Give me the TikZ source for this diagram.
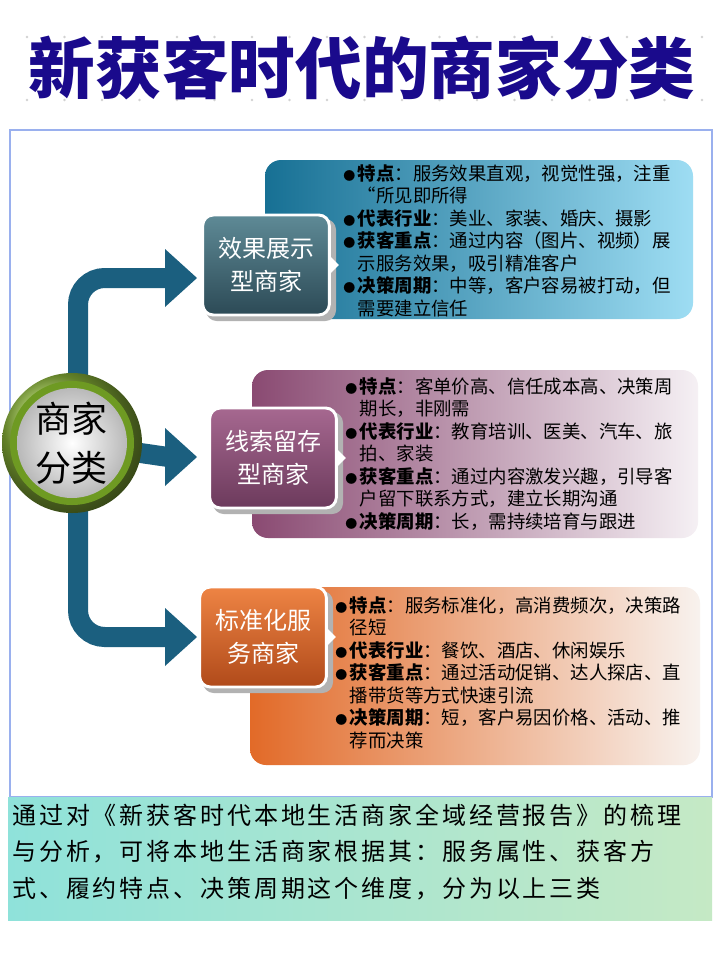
\documentclass[tikz,border=0pt]{standalone}
\usepackage{fontspec}
\setmainfont{Noto Sans CJK SC}
\usetikzlibrary{shadings}
\definecolor{titleblue}{HTML}{1A0A8C}
\definecolor{trunk}{HTML}{1B5F7F}
\definecolor{frameblue}{HTML}{9AB0EE}
\definecolor{bandL}{HTML}{8FE2DA}
\definecolor{bandR}{HTML}{C5E9C5}
\definecolor{p1L}{HTML}{177094}
\definecolor{p1R}{HTML}{9EDDF3}
\definecolor{p2L}{HTML}{8A4A72}
\definecolor{p2R}{HTML}{F5F0F4}
\definecolor{p3L}{HTML}{E26A28}
\definecolor{p3R}{HTML}{F8F2EE}
\definecolor{b1T}{HTML}{5E8A96}
\definecolor{b1B}{HTML}{2C4A56}
\definecolor{b2T}{HTML}{A66890}
\definecolor{b2B}{HTML}{6C3A5C}
\definecolor{b3T}{HTML}{EE8444}
\definecolor{b3B}{HTML}{B04A1A}
\definecolor{gball}{HTML}{8DB83A}
\definecolor{gring}{HTML}{6E9A22}
\newcommand\bl[2]{\makebox[11pt][l]{\fontsize{9}{9}\selectfont●}\textbf{#1}：#2}
\newcommand\cn[1]{\hspace*{11pt}#1}
\tikzset{
  cat/.style={draw=white, line width=2.2pt, rounded corners=8pt, minimum width=95pt, minimum height=75pt, text=white, font=\fontsize{18}{25}\selectfont, align=center},
  panel/.style={rounded corners=12pt},
  ptext/.style={anchor=north west, align=left, inner sep=0pt, font=\fontsize{13.8}{16.9}\selectfont, text=black},
  shaft/.style={draw=trunk, line width=15pt, rounded corners=20pt}
}
\begin{document}
\begin{tikzpicture}[x=0.75pt,y=-0.75pt]
\useasboundingbox (0,0) rectangle (720,960);
\fill[white] (0,0) rectangle (720,960);
\foreach \i in {0,...,18} {
  \fill[gray!35] (27+\i*37.5,37) circle (1.3);
  \fill[gray!35] (27+\i*37.5,100) circle (1.3);
}
\node (title) at (362,68) {\fontsize{50}{55}\selectfont\bfseries\color{titleblue}新获客时代的商家分类};
\draw[frameblue, line width=1.2pt] (10,130) rectangle (712,797);
\shade[left color=bandL, right color=bandR] (8,797) rectangle (712,920);
\node (note) [anchor=north west, align=left, inner sep=0pt, font=\fontsize{18}{27.2}\selectfont\addfontfeatures{LetterSpace=12}] at (12,804)
 {通过对《新获客时代本地生活商家全域经营报告》的梳理\\与分析，可将本地生活商家根据其：服务属性、获客方\\式、履约特点、决策周期这个维度，分为以上三类};
\shade[panel, left color=p1L, right color=p1R] (265,160) rectangle (693,319);
\shade[panel, left color=p2L, right color=p2R] (252,370) rectangle (698,538);
\shade[panel, left color=p3L, right color=p3R] (250,587) rectangle (700,765);
\node (p1) [ptext] at (343,164) {\bl{特点}{服务效果直观，视觉性强，注重}\\\cn{“所见即所得}\\\bl{代表行业}{美业、家装、婚庆、摄影}\\\bl{获客重点}{通过内容（图片、视频）展}\\\cn{示服务效果，吸引精准客户}\\\bl{决策周期}{中等，客户容易被打动，但}\\\cn{需要建立信任}};
\node (p2) [ptext] at (345,377) {\bl{特点}{客单价高、信任成本高、决策周}\\\cn{期长，非刚需}\\\bl{代表行业}{教育培训、医美、汽车、旅}\\\cn{拍、家装}\\\bl{获客重点}{通过内容激发兴趣，引导客}\\\cn{户留下联系方式，建立长期沟通}\\\bl{决策周期}{长，需持续培育与跟进}};
\node (p3) [ptext] at (335,596) {\bl{特点}{服务标准化，高消费频次，决策路}\\\cn{径短}\\\bl{代表行业}{餐饮、酒店、休闲娱乐}\\\bl{获客重点}{通过活动促销、达人探店、直}\\\cn{播带货等方式快速引流}\\\bl{决策周期}{短，客户易因价格、活动、推}\\\cn{荐而决策}};
\coordinate (h) at (72,443);
\coordinate (a1) at (168,278);
\coordinate (a2) at (168,457);
\coordinate (a3) at (168,637);
\draw[shaft] (78,420) |- (a1);
\draw[shaft] (78,470) |- (a3);
\draw[shaft] (h) -- (a2);
\foreach \y in {278,457,637} \fill[trunk] (165,\y-29) -- (197,\y) -- (165,\y+29) -- cycle;
\shade[ball color=gball] (h) circle (70);
\fill[gring] (h) circle (62);
\shade[inner color=white, outer color=gray!55] (h) circle (55);
\node (hub) [align=center, font=\fontsize{27}{37}\selectfont] at (h) {商家\\分类};
\foreach \cx/\cy in {266/265, 273/458, 263/637} {
  \fill[gray!60, rounded corners=8pt] (\cx-60,\cy-46) rectangle (\cx+70,\cy+56);
}
\node (b1) [cat, top color=b1T, bottom color=b1B] at (266,265) {效果展示\\型商家};
\node (b2) [cat, top color=b2T, bottom color=b2B] at (273,458) {线索留存\\型商家};
\node (b3) [cat, top color=b3T, bottom color=b3B] at (263,637) {标准化服\\务商家};
\foreach \b in {b1,b2,b3} \fill[white] (\b.east)++(0,-8) -- ++(8,8) -- ++(-8,8) -- cycle;
\end{tikzpicture}
\end{document}
